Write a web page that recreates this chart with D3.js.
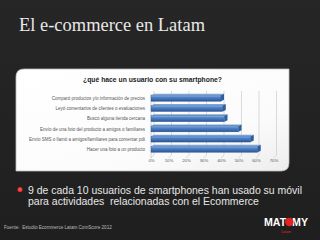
<!DOCTYPE html>
<html><head><meta charset="utf-8">
<script src="https://cdn.jsdelivr.net/npm/d3@7"></script>
<style>html,body{margin:0;padding:0;background:#222;}svg{display:block;}text{white-space:pre;}</style>
</head><body>
<script>
const categories = [
  "Comparó productos y/o información de precios",
  "Leyó comentarios de clientes o evaluaciones",
  "Buscó alguna tienda cercana",
  "Envío de una foto del producto a amigos o familiares",
  "Envío SMS o llamó a amigos/familiares para comentar pdt",
  "Hacer una foto a un producto"
];
const values = [0.40, 0.41, 0.42, 0.50, 0.57, 0.61];
const ticks = [0, 0.1, 0.2, 0.3, 0.4, 0.5, 0.6, 0.7];
const slideTitle = "El e-commerce en Latam";
const chartTitle = "¿qué hace un usuario con su smartphone?";
const bulletLines = ["9 de cada 10 usuarios de smartphones han usado su móvil",
                     "para actividades  relacionadas con el Ecommerce"];
const source = "Fuente:  Estudio Ecommerce Latam ComScore 2012";

const W = 320, H = 240;
const svg = d3.select("body").append("svg").attr("width", W).attr("height", H);
const defs = svg.append("defs");

const bg = defs.append("linearGradient").attr("id","bg").attr("x1",0).attr("y1",0).attr("x2",0).attr("y2",1);
bg.append("stop").attr("offset",0).attr("stop-color","#262626");
bg.append("stop").attr("offset",1).attr("stop-color","#1f1f1f");
svg.append("rect").attr("width",W).attr("height",H).attr("fill","url(#bg)");

// slide title
svg.append("text").attr("x",19).attr("y",31)
  .attr("font-family","Liberation Serif, DejaVu Serif, serif").attr("font-size",18)
  .attr("fill","#e8e8e8").text(slideTitle)
  .attr("textLength",186).attr("lengthAdjust","spacingAndGlyphs");

// panel
const pg = defs.append("linearGradient").attr("id","pg").attr("x1",0).attr("y1",0).attr("x2",1).attr("y2",1);
pg.append("stop").attr("offset",0).attr("stop-color","#ffffff");
pg.append("stop").attr("offset",0.7).attr("stop-color","#fbfbfb");
pg.append("stop").attr("offset",1).attr("stop-color","#ededed");
const px0=16, py0=69, px1=289, py1=171, r=8;
svg.append("path")
  .attr("d",`M${px0},${py0+r} Q${px0},${py0} ${px0+r},${py0} L${px1},${py0} L${px1},${py1-r} Q${px1},${py1} ${px1-r},${py1} L${px0},${py1} Z`)
  .attr("fill","url(#pg)").attr("stroke","#bdbdbd").attr("stroke-width",0.8);

// chart title
svg.append("text").attr("x",152.5).attr("y",82).attr("text-anchor","middle")
  .attr("font-family","Liberation Sans, Arial, sans-serif").attr("font-weight","bold")
  .attr("font-size",8).attr("fill","#222")
  .attr("textLength",139).attr("lengthAdjust","spacingAndGlyphs").text(chartTitle);

const x = d3.scaleLinear().domain([0,0.7]).range([151,273.5]);
const y = d3.scaleBand().domain(categories.slice()).range([93.2,154.4]).paddingInner(0.42).paddingOuter(0.21);

// gridlines (3D style)
const gTop = 91, gBot = 155, depth = 3;
const grid = svg.append("g");
ticks.forEach(v=>{
  const xx = x(v)+depth;
  grid.append("line").attr("x1",xx).attr("x2",xx).attr("y1",gTop).attr("y2",gBot)
    .attr("stroke","#d0d0d0").attr("stroke-width",0.8);
  grid.append("line").attr("x1",xx).attr("x2",xx-depth).attr("y1",gBot).attr("y2",gBot+depth)
    .attr("stroke","#d0d0d0").attr("stroke-width",0.8);
});
svg.append("line").attr("x1",x(0)).attr("x2",x(0)).attr("y1",gTop+depth).attr("y2",gBot+depth)
  .attr("stroke","#c8c8c8").attr("stroke-width",0.8);

// x axis tick labels
const xAxis = d3.axisBottom(x).tickValues(ticks).tickFormat(d3.format(".0%")).tickSize(0).tickPadding(0);
const ax = svg.append("g").attr("transform",`translate(0,${159})`).call(xAxis);
ax.select(".domain").remove();
ax.selectAll("text").attr("font-family","Liberation Sans, Arial, sans-serif").attr("font-size",4.3).attr("fill","#555");

// bars
const bgr = defs.append("linearGradient").attr("id","bar").attr("x1",0).attr("y1",0).attr("x2",0).attr("y2",1);
bgr.append("stop").attr("offset",0).attr("stop-color","#8fb3e3");
bgr.append("stop").attr("offset",0.35).attr("stop-color","#4f81c7");
bgr.append("stop").attr("offset",1).attr("stop-color","#2b5796");
const bars = svg.append("g");
categories.forEach((c,i)=>{
  const y0 = y(c), h = y.bandwidth(), x0 = x(0), x1v = x(values[i]);
  bars.append("path").attr("d",`M${x0},${y0} L${x0+depth},${y0-1.5} L${x1v+depth},${y0-1.5} L${x1v},${y0} Z`)
    .attr("fill","#7ea4d8");
  bars.append("rect").attr("x",x0).attr("y",y0).attr("width",x1v-x0).attr("height",h)
    .attr("fill","url(#bar)").attr("stroke","#2a5590").attr("stroke-width",0.4);
  bars.append("path").attr("d",`M${x1v},${y0} L${x1v+depth},${y0-1.5} L${x1v+depth},${y0+h-1.5} L${x1v},${y0+h} Z`)
    .attr("fill","#2f5d9c");
});

// category labels
const yl = svg.append("g");
categories.forEach(c=>{
  const tx = yl.append("text").attr("x",145).attr("y",y(c)+y.bandwidth()/2+1.6)
    .attr("text-anchor","end").attr("font-family","Liberation Sans, Arial, sans-serif")
    .attr("font-size",5.3).attr("fill","#555").text(c);
  const w = tx.node().getComputedTextLength();
  tx.attr("textLength",w*0.85).attr("lengthAdjust","spacingAndGlyphs");
});

// bullet
const bgrad = defs.append("radialGradient").attr("id","bul");
bgrad.append("stop").attr("offset",0).attr("stop-color","#ff6a6a");
bgrad.append("stop").attr("offset",1).attr("stop-color","#d81e1e");
svg.append("circle").attr("cx",20).attr("cy",189.5).attr("r",2.6).attr("fill","url(#bul)");
const l1 = svg.append("text").attr("x",28).attr("y",194)
  .attr("font-family","Liberation Sans, Arial, sans-serif").attr("font-size",11).attr("fill","#e6e6e6").text(bulletLines[0]);
const w1 = l1.node().getComputedTextLength();
const k = 274/w1;
l1.attr("textLength",274).attr("lengthAdjust","spacingAndGlyphs");
const l2 = svg.append("text").attr("x",28).attr("y",205)
  .attr("font-family","Liberation Sans, Arial, sans-serif").attr("font-size",11).attr("fill","#e6e6e6").text(bulletLines[1]);
l2.attr("textLength",l2.node().getComputedTextLength()*k).attr("lengthAdjust","spacingAndGlyphs");

// source
svg.append("text").attr("x",4).attr("y",229).attr("font-family","Liberation Sans, Arial, sans-serif")
  .attr("font-size",4.6).attr("fill","#bbb").text(source);

// logo
const logo = svg.append("g");
logo.append("text").attr("x",264).attr("y",226).attr("font-family","Liberation Sans, Arial, sans-serif")
  .attr("font-weight","bold").attr("font-size",11).attr("fill","#fff")
  .attr("textLength",44).attr("lengthAdjust","spacingAndGlyphs").text("MAT\u2007MY");
logo.append("circle").attr("cx",289.3).attr("cy",222).attr("r",4.2).attr("fill","#e52222");
logo.append("text").attr("x",286).attr("y",232.5).attr("text-anchor","middle").attr("font-family","Liberation Sans, Arial, sans-serif")
  .attr("font-size",3.5).attr("fill","#e52222").text("Latam");
</script>
</body></html>
